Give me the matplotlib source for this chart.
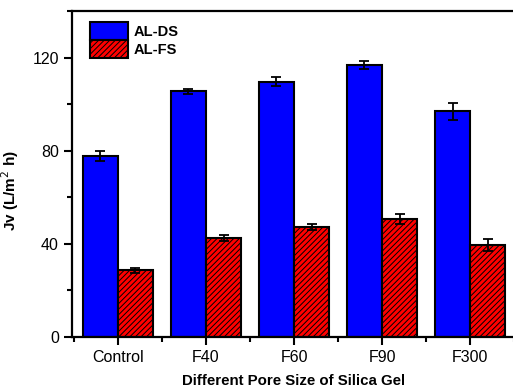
import numpy as np
import matplotlib
matplotlib.use("Agg")
import matplotlib.pyplot as plt
from matplotlib.ticker import MultipleLocator

plt.rcParams['font.family'] = ['Liberation Sans', 'DejaVu Sans']
plt.rcParams['hatch.linewidth'] = 0.7

# pore size categories and flux (Jv) values
categories = ['Control', 'F40', 'F60', 'F90', 'F300']
ds_flux = [77.8, 105.6, 109.6, 116.9, 97.0]
ds_err = [2.2, 1.1, 1.9, 1.7, 3.7]
fs_flux = [28.6, 42.6, 47.2, 50.8, 39.7]
fs_err = [1.0, 1.2, 1.3, 2.1, 2.6]

fig = plt.figure(figsize=(5.13, 3.89), dpi=100)
ax = fig.add_axes([72/513, 52/389, 444/513, 326/389])

x = np.arange(len(categories))
w = 0.4
err_kw = dict(ecolor='k', elinewidth=1.3, capsize=3.5, capthick=1.3)
ax.bar(x - w/2, ds_flux, w, yerr=ds_err, color='#0000ff', edgecolor='k',
       linewidth=1.5, label='AL-DS', error_kw=err_kw)
ax.bar(x + w/2, fs_flux, w, yerr=fs_err, color='#ff0000', edgecolor='k',
       linewidth=1.5, hatch='//////', label='AL-FS', error_kw=err_kw)

ax.set_xlim(-0.52, 4.52)
ax.set_ylim(0, 140)
ax.set_xticks(x)
ax.set_xticklabels(categories)
ax.xaxis.set_minor_locator(MultipleLocator(1, offset=0.5))
ax.yaxis.set_major_locator(MultipleLocator(40))
ax.yaxis.set_minor_locator(MultipleLocator(20))

for s in ['left', 'bottom', 'top']:
    ax.spines[s].set_linewidth(1.6)
ax.spines['right'].set_visible(False)
ax.tick_params(which='major', direction='out', length=6, width=1.5, labelsize=11.5)
ax.tick_params(which='minor', direction='out', length=3.5, width=1.5)

ax.set_xlabel('Different Pore Size of Silica Gel', fontsize=10.8, fontweight='bold', labelpad=6)
ax.set_ylabel('Jv (L/m$^2$ h)', fontsize=11, fontweight='bold')
ax.yaxis.set_label_coords(-0.115, 0.448)

ax.legend(loc='upper left', frameon=False, prop={'weight': 'bold', 'size': 10.5},
          handlelength=2.6, handleheight=1.55, labelspacing=0.0, handletextpad=0.4,
          borderaxespad=0.3, bbox_to_anchor=(0.017, 0.998))

fig.savefig('out.png', dpi=100)
